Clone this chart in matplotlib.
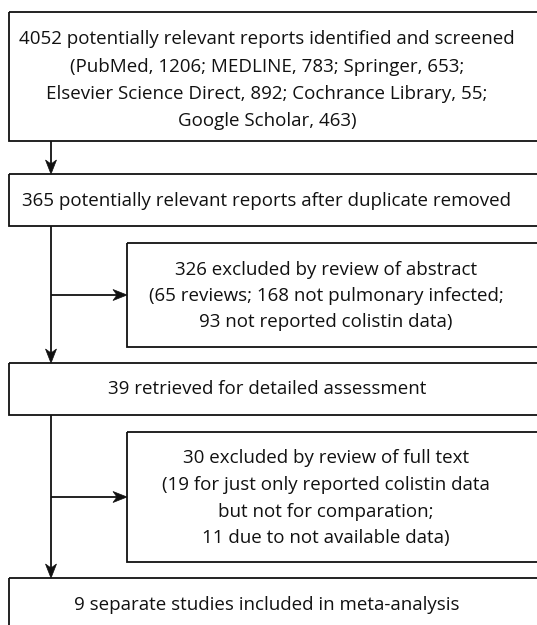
import math
import matplotlib
matplotlib.use("Agg")
import matplotlib.pyplot as plt
from matplotlib.patches import Rectangle, Polygon

W, H = 537, 625

main_steps = [
    ["4052 potentially relevant reports identified and screened",
     "(PubMed, 1206; MEDLINE, 783; Springer, 653;",
     "Elsevier Science Direct, 892; Cochrance Library, 55;",
     "Google Scholar, 463)"],
    ["365 potentially relevant reports after duplicate removed"],
    ["39 retrieved for detailed assessment"],
    ["9 separate studies included in meta-analysis"],
]
excluded_steps = [
    ["326 excluded by review of abstract",
     "(65 reviews; 168 not pulmonary infected;",
     "93 not reported colistin data)"],
    ["30 excluded by review of full text",
     "(19 for just only reported colistin data",
     "but not for comparation;",
     "11 due to not available data)"],
]

# layout (pixel coordinates, y downward)
main_boxes = [(9, 12, 141), (9, 174, 226), (9, 363, 415), (9, 578, 640)]
main_text_y = [[39, 67, 94, 121], [201], [389], [605]]
main_cx = 267
excl_boxes = [(127, 243, 347), (127, 432, 562)]
excl_text_y = [[270, 296, 322], [458, 485, 512, 538]]
excl_cx = 326
spine_x = 51
right_edge = 560

fig = plt.figure(figsize=(W / 100, H / 100), dpi=100)
ax = fig.add_axes([0, 0, 1, 1])
ax.set_xlim(0, W)
ax.set_ylim(H, 0)
ax.axis("off")

lw = 1.3
ink = "#111111"
font = dict(family=["Open Sans", "DejaVu Sans"], fontsize=13.5, color=ink,
            ha="center", va="center")

def box(x0, y0, y1):
    ax.add_patch(Rectangle((x0, y0), right_edge - x0, y1 - y0, fill=False,
                           lw=lw, ec=ink, clip_on=True))

def arrow(x0, y0, x1, y1, L=14, Wd=5.5, notch=4):
    d = math.hypot(x1 - x0, y1 - y0)
    ux, uy = (x1 - x0) / d, (y1 - y0) / d
    px, py = -uy, ux
    bx, by = x1 - ux * L, y1 - uy * L
    nx, ny = bx + ux * notch, by + uy * notch
    ax.plot([x0, nx], [y0, ny], color=ink, lw=lw, solid_capstyle="butt")
    ax.add_patch(Polygon([(x1, y1), (bx + px * Wd, by + py * Wd), (nx, ny),
                          (bx - px * Wd, by - py * Wd)], closed=True,
                         fc=ink, ec=ink, lw=0.5))

for (x0, y0, y1), lines, ys in zip(main_boxes, main_steps, main_text_y):
    box(x0, y0, y1)
    for t, y in zip(lines, ys):
        ax.text(main_cx, y, t, **font)

for (x0, y0, y1), lines, ys in zip(excl_boxes, excluded_steps, excl_text_y):
    box(x0, y0, y1)
    for t, y in zip(lines, ys):
        ax.text(excl_cx, y, t, **font)

for (a, b) in zip(main_boxes[:-1], main_boxes[1:]):
    arrow(spine_x, a[2], spine_x, b[1])
for (x0, y0, y1) in excl_boxes:
    ym = (y0 + y1) / 2
    arrow(spine_x, ym, x0, ym)

fig.savefig("out.png", dpi=100)
